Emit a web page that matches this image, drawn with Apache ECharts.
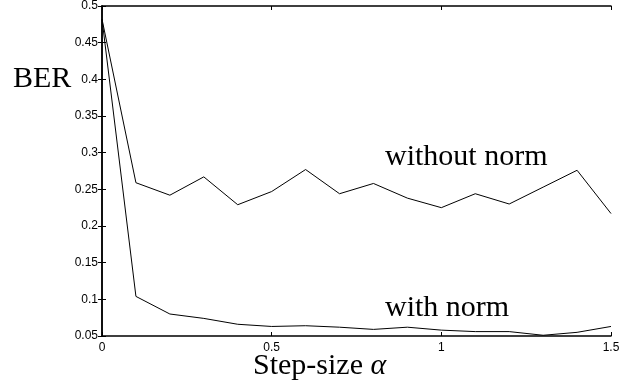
<!DOCTYPE html>
<html>
<head>
<meta charset="utf-8">
<script src="https://cdn.jsdelivr.net/npm/echarts@6/dist/echarts.min.js"></script>
<style>
  html, body { margin: 0; padding: 0; background: #fff; }
  #main { width: 632px; height: 383px; }
</style>
</head>
<body>
<div id="main"></div>
<script>
  // step-size alpha
  var steps = [0, 0.1, 0.2, 0.3, 0.4, 0.5, 0.6, 0.7, 0.8, 0.9, 1.0, 1.1, 1.2, 1.3, 1.4, 1.5];
  // BER without normalisation
  var berWithout = [0.482, 0.259, 0.242, 0.267, 0.229, 0.247, 0.277, 0.244, 0.258, 0.238, 0.225, 0.244, 0.230, 0.253, 0.276, 0.217];
  // BER with normalisation
  var berWith = [0.482, 0.104, 0.080, 0.074, 0.066, 0.063, 0.064, 0.062, 0.059, 0.062, 0.058, 0.056, 0.056, 0.051, 0.055, 0.063];

  var xTickLabels = ['0', '0.5', '1', '1.5'];
  var yTickLabels = ['0.05', '0.1', '0.15', '0.2', '0.25', '0.3', '0.35', '0.4', '0.45', '0.5'];

  function pairs(ys) {
    var out = [];
    for (var i = 0; i < steps.length; i++) out.push([steps[i], ys[i]]);
    return out;
  }

  var chart = echarts.init(document.getElementById('main'));

  var axisLine = { show: true, lineStyle: { color: '#000', width: 1.5 } };
  var tick = { show: true, inside: true, length: 4, lineStyle: { color: '#000', width: 1 } };
  var tickFont = { color: '#000', fontFamily: 'Liberation Sans', fontSize: 12 };

  var option = {
    animation: false,
    backgroundColor: '#fff',
    grid: { left: 102, right: 21, top: 5, bottom: 47 },
    xAxis: [
      {
        type: 'value', min: 0, max: 1.5, interval: 0.5,
        axisLine: axisLine, axisTick: tick, splitLine: { show: false },
        axisLabel: Object.assign({
          margin: 6,
          formatter: function (v) { return xTickLabels[Math.round(v / 0.5)]; }
        }, tickFont)
      },
      {
        type: 'value', position: 'top', min: 0, max: 1.5, interval: 0.5,
        axisLine: axisLine, axisTick: tick, splitLine: { show: false },
        axisLabel: { show: false }
      }
    ],
    yAxis: [
      {
        type: 'value', min: 0.05, max: 0.5, interval: 0.05,
        axisLine: axisLine, axisTick: tick, splitLine: { show: false },
        axisLabel: Object.assign({
          margin: 4,
          formatter: function (v) { return yTickLabels[Math.round(v / 0.05) - 1]; }
        }, tickFont)
      },
      {
        type: 'value', position: 'right', min: 0.05, max: 0.5, interval: 0.05,
        axisLine: axisLine, axisTick: tick, splitLine: { show: false },
        axisLabel: { show: false }
      }
    ],
    series: [
      {
        name: 'without norm', type: 'line', data: pairs(berWithout),
        showSymbol: false, lineStyle: { color: '#000', width: 1 }
      },
      {
        name: 'with norm', type: 'line', data: pairs(berWith),
        showSymbol: false, lineStyle: { color: '#000', width: 1 }
      }
    ],
    graphic: [
      { type: 'text', left: 13, top: 64, style: { text: 'BER', fill: '#000', font: '30px "Liberation Serif"' } },
      { type: 'text', left: 385, top: 142, style: { text: 'without norm', fill: '#000', font: '30px "Liberation Serif"' } },
      { type: 'text', left: 385, top: 293, style: { text: 'with norm', fill: '#000', font: '30px "Liberation Serif"' } },
      {
        type: 'text', left: 253, top: 351,
        style: {
          text: 'Step-size {a|α}', fill: '#000', font: '30px "Liberation Serif"',
          rich: { a: { fontFamily: 'Liberation Serif', fontSize: 30, fontStyle: 'italic', fill: '#000' } }
        }
      }
    ]
  };

  chart.setOption(option);
</script>
</body>
</html>
